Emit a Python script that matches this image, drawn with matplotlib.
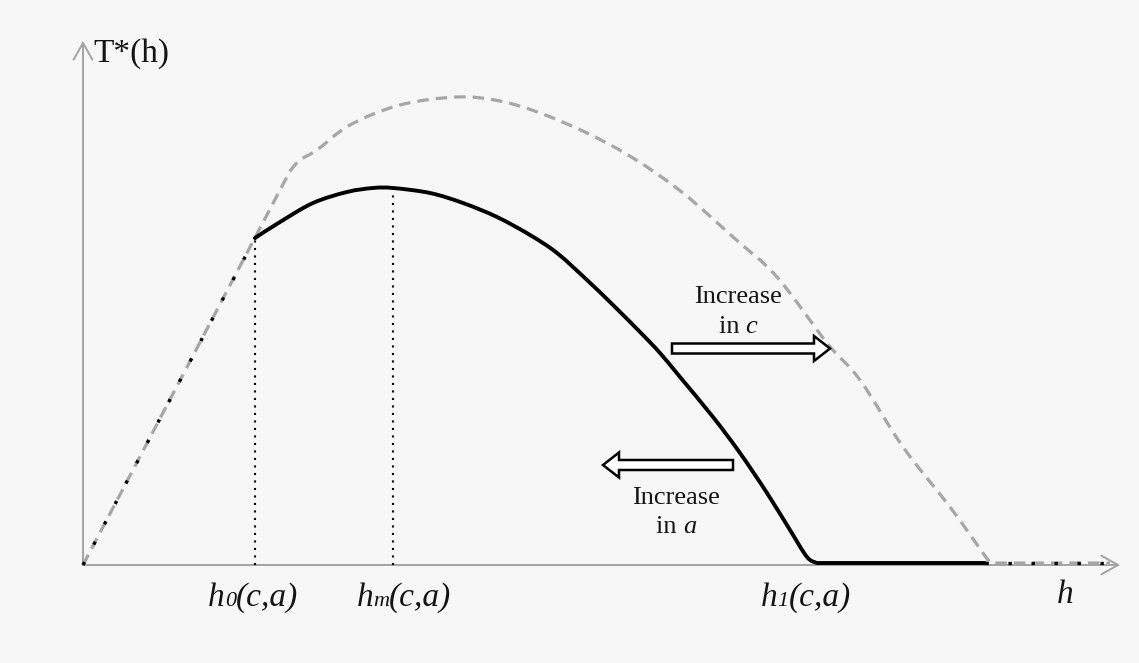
import matplotlib
matplotlib.use("Agg")
import matplotlib.pyplot as plt
from matplotlib.patches import FancyArrow, PathPatch
from matplotlib.path import Path
from matplotlib.font_manager import FontProperties

# ---- data (h, T*(h)) ----
h_black = [0, 172, 197, 230, 264, 290, 310, 347, 380, 414, 447, 474, 504, 530, 557, 577, 597, 630, 657, 684, 707, 724, 734, 902, 1027]
T_black = [0, 327, 343, 362, 373, 377, 377, 372, 362, 348, 330, 312, 285, 260, 233, 212, 188, 148, 112, 72, 35, 8, 2, 2, 2]

h_gray = [0, 207, 217, 234, 267, 317, 374, 417, 457, 504, 550, 600, 650, 694, 744, 777, 820, 867, 900, 907, 1027]
T_gray = [0, 394, 405, 415, 440, 460, 468, 464, 452, 432, 407, 372, 328, 288, 222, 185, 118, 58, 12, 2, 2]

h0, hm, h1 = 172, 310, 724
T_h0, T_hm = 327, 377

BG = "#f7f7f7"
fig = plt.figure(figsize=(11.39, 6.63), dpi=100, facecolor=BG)
ax = fig.add_axes([0, 0, 1, 1])
ax.set_facecolor(BG)
ax.set_xlim(-83, 1139 - 83)
ax.set_ylim(565 - 663, 565)
ax.axis("off")


def smooth_path(xs, ys, lead_line=True, tail_line=True):
    """Straight first/last segment, smooth (Catmull-Rom as Bezier) in between."""
    pts = list(zip(xs, ys))
    verts = [pts[0]]
    codes = [Path.MOVETO]
    start = 0
    end = len(pts) - 1
    if lead_line:
        verts.append(pts[1]); codes.append(Path.LINETO)
        start = 1
    if tail_line:
        end = len(pts) - 2
    mid = pts[start:end + 1]
    n = len(mid)
    for i in range(n - 1):
        p0 = mid[i - 1] if i > 0 else mid[i]
        p1 = mid[i]
        p2 = mid[i + 1]
        p3 = mid[i + 2] if i + 2 < n else mid[i + 1]
        c1 = (p1[0] + (p2[0] - p0[0]) / 6.0, p1[1] + (p2[1] - p0[1]) / 6.0)
        c2 = (p2[0] - (p3[0] - p1[0]) / 6.0, p2[1] - (p3[1] - p1[1]) / 6.0)
        verts += [c1, c2, p2]
        codes += [Path.CURVE4] * 3
    if tail_line:
        verts.append(pts[-1]); codes.append(Path.LINETO)
    return Path(verts, codes)


axis_col = "#a3a3a3"
ax.annotate("", xy=(0, 524), xytext=(0, 0),
            arrowprops=dict(arrowstyle="->,head_length=0.8,head_width=0.45", color=axis_col,
                            lw=1.4, shrinkA=0, shrinkB=0, mutation_scale=15))
ax.annotate("", xy=(1037, 0), xytext=(0, 0),
            arrowprops=dict(arrowstyle="->,head_length=0.8,head_width=0.45", color=axis_col,
                            lw=1.4, shrinkA=0, shrinkB=0, mutation_scale=15))

# gray dashed curve
ax.add_patch(PathPatch(smooth_path(h_gray, T_gray), fill=False, edgecolor="#a6a6a6", lw=2.3,
                       linestyle=(0, (3.6, 2.2)), capstyle="butt", zorder=2))

# black solid curve (h0 to where the gray curve reaches zero)
ax.add_patch(PathPatch(smooth_path(h_black[1:-1], T_black[1:-1], lead_line=False, tail_line=True),
                       fill=False, edgecolor="black", lw=2.8, joinstyle="round",
                       capstyle="round", zorder=3))
# black dotted parts
ax.plot(h_black[0:2], T_black[0:2], color="black", lw=2.4, linestyle=(0, (1, 5.9)), zorder=3)
ax.plot(h_black[-2:], T_black[-2:], color="black", lw=2.4, linestyle=(0, (1, 5.9)), zorder=3)

# vertical dotted lines
ax.plot([h0, h0], [0, T_h0], color="black", lw=1.5, linestyle=(0, (1, 2.6)), zorder=3)
ax.plot([hm, hm], [0, T_hm], color="black", lw=1.5, linestyle=(0, (1, 2.6)), zorder=3)

# hollow arrows
ax.add_patch(FancyArrow(589, 216.5, 158, 0, width=10, head_width=25, head_length=16,
                        length_includes_head=True, fc="white", ec="black", lw=1.8, zorder=4))
ax.add_patch(FancyArrow(650, 100, -130, 0, width=10, head_width=25, head_length=16,
                        length_includes_head=True, fc="white", ec="black", lw=1.8, zorder=4))

serif = "Liberation Serif"
fig.canvas.draw()
renderer = fig.canvas.get_renderer()
TXT = "#141414"


def place(xc, y, pieces):
    """Place text pieces side by side, centred at xc, baseline at y (data)."""
    texts = []
    for s, fp in pieces:
        t = ax.text(0, y, s, fontproperties=fp, ha="left", va="baseline", color=TXT)
        texts.append(t)
    widths = [t.get_window_extent(renderer=renderer).width for t in texts]
    total = sum(widths)
    inv = ax.transData.inverted()
    cur = ax.transData.transform((xc, y))[0] - total / 2
    for t, w in zip(texts, widths):
        t.set_x(inv.transform((cur, 0))[0])
        cur += w


fp_it = FontProperties(family=serif, style="italic", size=24)
fp_sub = FontProperties(family=serif, style="italic", size=16)
fp_rm = FontProperties(family=serif, size=19)
fp_rm_it = FontProperties(family=serif, style="italic", size=19)

ax.text(10, 503, "T*(h)", fontproperties=FontProperties(family=serif, size=24),
        ha="left", va="baseline", color=TXT)

place(170, -41, [("h", fp_it), ("0", fp_sub), ("(c,a)", fp_it)])
place(321, -41, [("h", fp_it), ("m", fp_sub), ("(c,a)", fp_it)])
place(723, -41, [("h", fp_it), ("1", fp_sub), ("(c,a)", fp_it)])
place(982, -38, [("h", fp_it)])

place(655, 262, [("Increase", fp_rm)])
place(655, 232, [("in ", fp_rm), ("c", fp_rm_it)])
place(593, 61, [("Increase", fp_rm)])
place(593, 32, [("in ", fp_rm), ("a", fp_rm_it)])

fig.savefig("out.png", dpi=100, facecolor=BG)
